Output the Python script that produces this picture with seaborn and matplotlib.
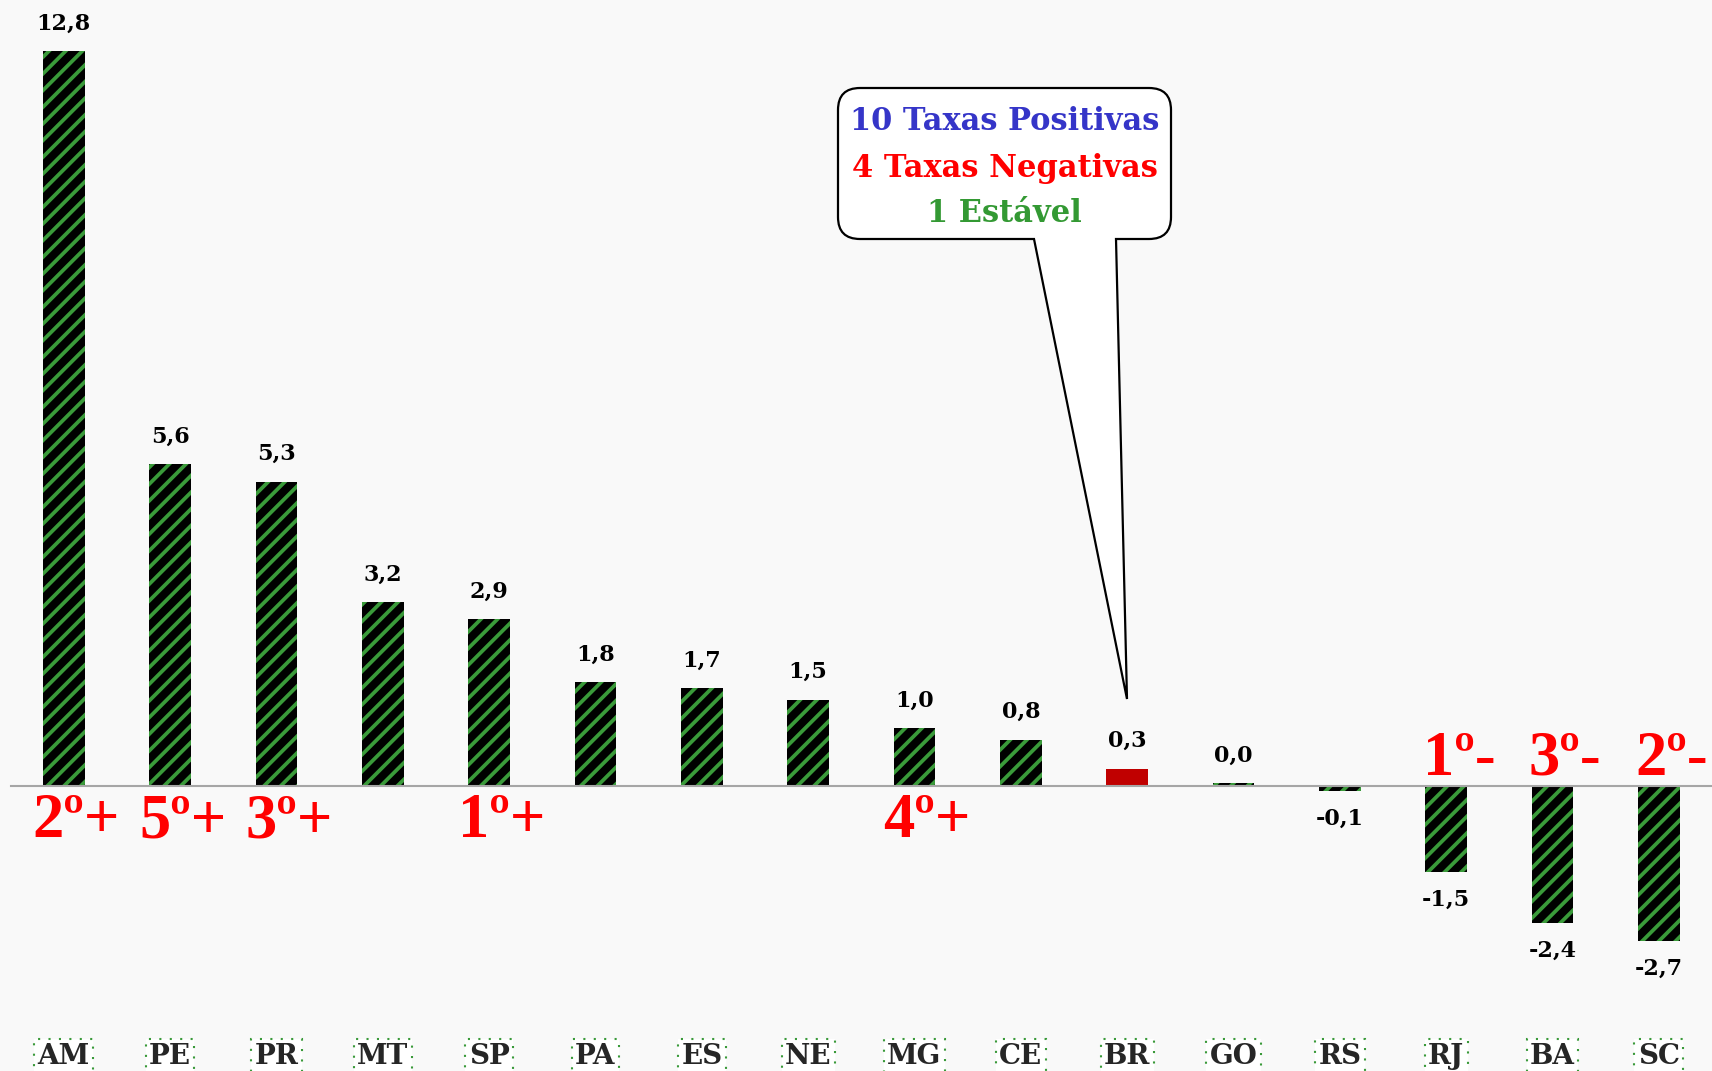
import numpy as np
import pandas as pd
import seaborn as sns
import matplotlib.pyplot as plt
from matplotlib.path import Path
from matplotlib.patches import PathPatch

# data
states = ["AM", "PE", "PR", "MT", "SP", "PA", "ES", "NE", "MG", "CE",
          "BR", "GO", "RS", "RJ", "BA", "SC"]
values = [12.8, 5.6, 5.3, 3.2, 2.9, 1.8, 1.7, 1.5, 1.0, 0.8,
          0.3, 0.04, -0.1, -1.5, -2.4, -2.7]
ranks = ["2º+", "5º+", "3º+", "", "1º+", "", "", "", "4º+", "",
         "", "", "", "1º-", "3º-", "2º-"]
callout_lines = ["10 Taxas Positivas", "4 Taxas Negativas", "1 Estável"]
callout_colors = ["#3535C8", "#FF0000", "#339933"]

BG = "#F9F9F9"
GREEN = "#3A9A3A"

sns.set_style("white")
plt.rcParams["hatch.linewidth"] = 2.7
plt.rcParams["font.family"] = ["DejaVu Serif"]

df = pd.DataFrame({"uf": states, "taxa": values})
pal = {s: ("#C00000" if s == "BR" else "black") for s in states}

fig = plt.figure(figsize=(17.12, 10.71), dpi=100, facecolor=BG)
ax = fig.add_axes([0, 0, 1, 1], facecolor=BG)

sns.barplot(data=df, x="uf", y="taxa", hue="uf", hue_order=states,
            order=states, palette=pal, width=0.39, dodge=False,
            legend=False, saturation=1, ax=ax)

for p, s in zip(sorted(ax.patches, key=lambda b: b.get_x()), states):
    p.set_linewidth(0)
    if s != "BR":
        p.set_hatch("//")
        p.set_edgecolor(GREEN)

# value labels
for cont, v in zip(ax.containers, values):
    ax.bar_label(cont, labels=[f"{v:.1f}".replace(".", ",")], padding=12,
                 fontsize=16, fontweight="bold", color="black")

# ranking labels
for i, (r, v) in enumerate(zip(ranks, values)):
    if not r:
        continue
    off = -37 if v > 0 else 8
    ax.annotate(r, (i + 0.12, 0), xytext=(0, off), textcoords="offset points",
                ha="center", va="baseline", color="#FF0000",
                fontsize=45, fontweight="bold", family="Liberation Serif")

ax.set_xlim(-0.6, 15.445)
ax.set_ylim(-4.97, 13.69)
ax.set_xlabel("")
ax.set_ylabel("")
ax.set_yticks([])

for sp in ["left", "right", "top"]:
    ax.spines[sp].set_visible(False)
ax.spines["bottom"].set_position(("data", 0))
ax.spines["bottom"].set_bounds(-0.5, 15.5)
ax.spines["bottom"].set_color("#A6A6A6")
ax.spines["bottom"].set_linewidth(1.5)

ax.set_xticks(np.arange(-0.5, 16, 1), minor=True)
ax.tick_params(axis="x", which="minor", length=7, width=1.3, color="#A6A6A6",
               direction="out")
ax.tick_params(axis="x", which="major", length=0, pad=185, labelsize=20)
for lbl in ax.get_xticklabels():
    lbl.set_fontweight("bold")
    lbl.set_bbox(dict(facecolor="white", edgecolor=GREEN, linewidth=1.5,
                      linestyle=(0, (1, 4)), boxstyle="square,pad=0.12"))

# speech bubble
x0, x1, y0, y1, r = 8.38, 11.71, 8.32, 9.83, 0.22
verts = [(x0 + r, y0), (10.34, y0), (11.27, 3.72), (11.16, y0), (x1 - r, y0),
         (x1, y0), (x1, y0 + r), (x1, y1 - r), (x1, y1), (x1 - r, y1),
         (x0 + r, y1), (x0, y1), (x0, y1 - r), (x0, y0 + r), (x0, y0),
         (x0 + r, y0), (x0 + r, y0)]
codes = [Path.MOVETO, Path.LINETO, Path.LINETO, Path.LINETO, Path.LINETO,
         Path.CURVE3, Path.CURVE3, Path.LINETO, Path.CURVE3, Path.CURVE3,
         Path.LINETO, Path.CURVE3, Path.CURVE3, Path.LINETO, Path.CURVE3,
         Path.CURVE3, Path.CLOSEPOLY]
fig.patches.append(PathPatch(Path(verts, codes), facecolor="white",
                             edgecolor="black", linewidth=1.6,
                             transform=fig.dpi_scale_trans, zorder=5))
for txt, col, yy in zip(callout_lines, callout_colors, [9.49, 9.03, 8.58]):
    fig.text(10.045 / 17.12, yy / 10.71, txt, color=col, ha="center",
             va="center", fontsize=22, fontweight="bold", zorder=6)

fig.savefig("out.png", dpi=100, facecolor=BG)
